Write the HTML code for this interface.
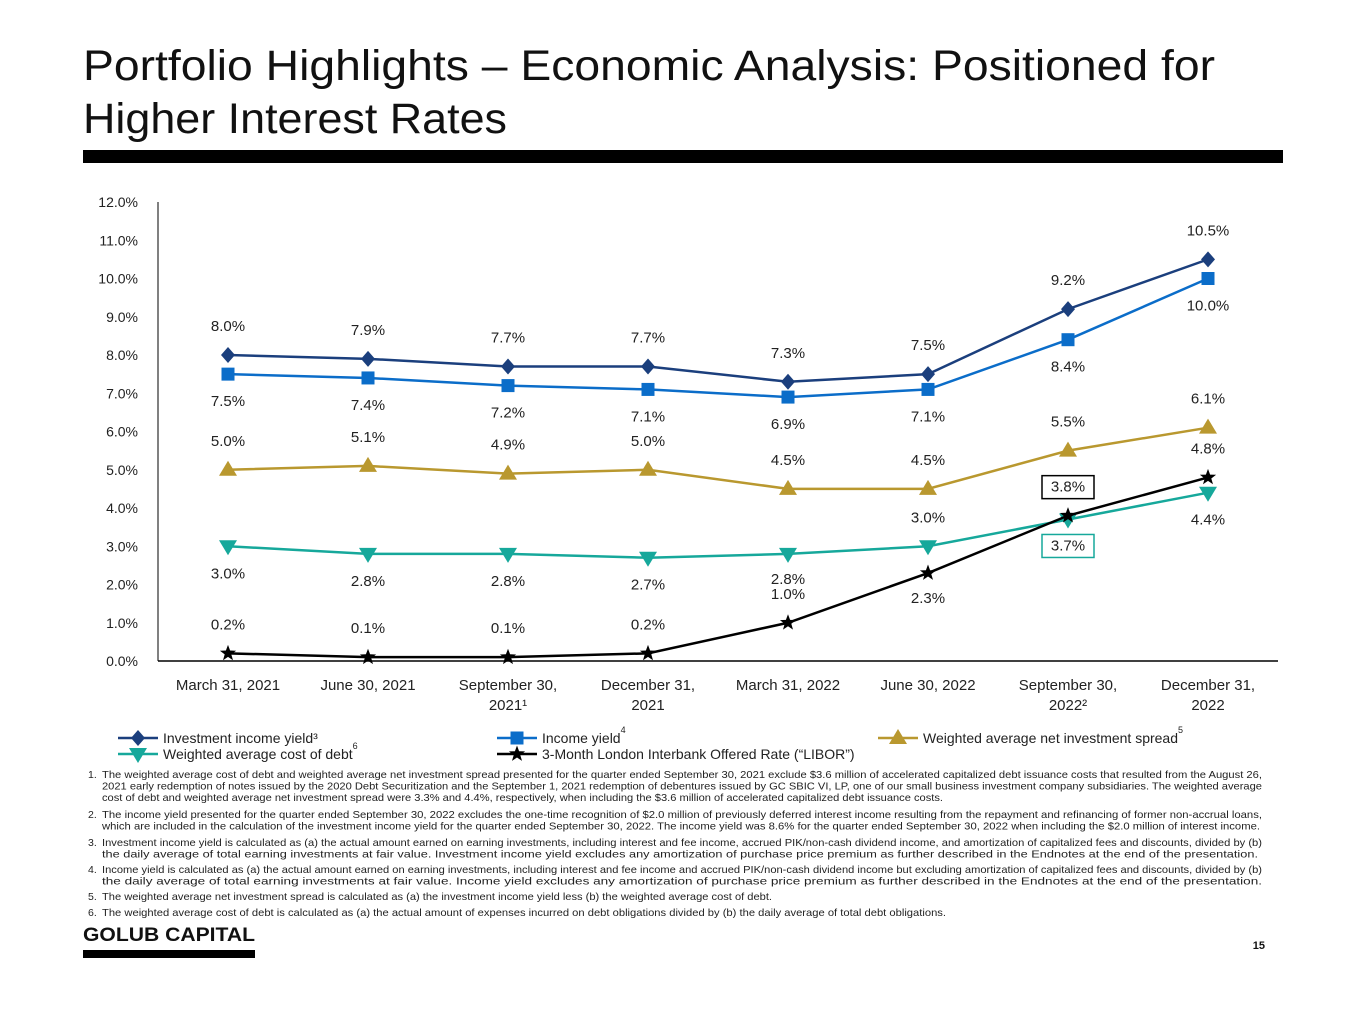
<!DOCTYPE html>
<html><head><meta charset="utf-8"><style>
html,body{margin:0;padding:0;background:#fff;}
svg{display:block;font-family:"Liberation Sans",sans-serif;}
.fn{font-family:"Liberation Sans Narrow","Liberation Sans",sans-serif;font-size:10.5px;fill:#222;}
</style></head><body>
<svg id="chart" width="1365" height="1024" viewBox="0 0 1365 1024">
<text x="83" y="80" font-size="43" fill="#111" textLength="1132" lengthAdjust="spacingAndGlyphs">Portfolio Highlights – Economic Analysis: Positioned for</text>
<text x="83" y="133" font-size="43" fill="#111" textLength="424" lengthAdjust="spacingAndGlyphs">Higher Interest Rates</text>
<rect x="83" y="150" width="1200" height="13" fill="#000"/>
<g id="plot"></g>
<g id="legend"></g>
<g id="notes"></g>
<text x="83" y="941" font-size="19" font-weight="bold" fill="#111" textLength="172" lengthAdjust="spacingAndGlyphs">GOLUB CAPITAL</text>
<rect x="83" y="950" width="172" height="8" fill="#000"/>
<text x="1265" y="949" font-size="11" font-weight="bold" text-anchor="end" fill="#111">15</text>
</svg>
<script>
const categories = ["March 31, 2021","June 30, 2021","September 30,|2021¹","December 31,|2021","March 31, 2022","June 30, 2022","September 30,|2022²","December 31,|2022"];
const investmentIncomeYield = [8.0,7.9,7.7,7.7,7.3,7.5,9.2,10.5];
const incomeYield = [7.5,7.4,7.2,7.1,6.9,7.1,8.4,10.0];
const netSpread = [5.0,5.1,4.9,5.0,4.5,4.5,5.5,6.1];
const costOfDebt = [3.0,2.8,2.8,2.7,2.8,3.0,3.7,4.4];
const libor = [0.2,0.1,0.1,0.2,1.0,2.3,3.8,4.8];
const yTicks = [0,1,2,3,4,5,6,7,8,9,10,11,12];

const NS="http://www.w3.org/2000/svg";
const X0=158, X1=1278, Y0=661, Y1=202, YMAX=12;
const band=(X1-X0)/categories.length;
const xs=i=>X0+band*(i+0.5);
const ys=v=>Y0-(v/YMAX)*(Y0-Y1);
function mk(tag,attrs,parent){const e=document.createElementNS(NS,tag);for(const k in attrs)e.setAttribute(k,attrs[k]);parent.appendChild(e);return e;}
const plot=document.getElementById('plot');

let ax=mk('line',{x1:X0,y1:Y1,x2:X0,y2:Y0,stroke:'#000','stroke-width':1},plot);


let bx=mk('line',{x1:X0,y1:Y0,x2:X1,y2:Y0,stroke:'#000','stroke-width':1.5},plot);


yTicks.forEach(t=>{
  const tx=mk('text',{x:138,y:ys(t)+5,'font-size':14,'text-anchor':'end',fill:'#222'},plot);
  tx.textContent=t.toFixed(1)+'%';
  
  
});
categories.forEach((c,i)=>{
  c.split('|').forEach((ln,j)=>{
    const tx=mk('text',{x:xs(i),y:690+j*20,'font-size':15,'text-anchor':'middle',fill:'#222'},plot);
    tx.textContent=ln;
    
    
  });
});

function marker(type,x,y,color,parent){
  let e;
  if(type==='diamond') e=mk('polygon',{points:`${x},${y-8} ${x+7},${y} ${x},${y+8} ${x-7},${y}`,fill:color},parent);
  else if(type==='square') e=mk('rect',{x:x-6.5,y:y-6.5,width:13,height:13,fill:color},parent);
  else if(type==='up') e=mk('polygon',{points:`${x},${y-9} ${x+9},${y+6} ${x-9},${y+6}`,fill:color},parent);
  else if(type==='down') e=mk('polygon',{points:`${x-9},${y-6} ${x+9},${y-6} ${x},${y+9}`,fill:color},parent);
  else {let p=[];for(let k=0;k<10;k++){const r=k%2?3.5:8.5,a=-Math.PI/2+k*Math.PI/5;p.push((x+r*Math.cos(a)).toFixed(1)+','+(y+r*Math.sin(a)).toFixed(1));}
    e=mk('polygon',{points:p.join(' '),fill:color},parent);}
  return e;
}
const series=[
 {name:'investment-income-yield',data:investmentIncomeYield,color:'#1b3f7d',m:'diamond',off:[-24,-24,-24,-24,-24,-24,-24,-24]},
 {name:'income-yield',data:incomeYield,color:'#0b6dc9',m:'square',off:[32,32,32,32,32,32,32,32]},
 {name:'net-investment-spread',data:netSpread,color:'#b9982f',m:'up',off:[-24,-24,-24,-24,-24,-24,-24,-24]},
 {name:'cost-of-debt',data:costOfDebt,color:'#16a89b',m:'down',off:[32,32,32,32,30,-24,31,32]},
 {name:'libor',data:libor,color:'#000',m:'star',off:[-24,-24,-24,-24,-24,30,-24,-24]}
];
series.forEach(s=>{
  const g=mk('g',{},plot);
  
  
  const ln=mk('polyline',{points:s.data.map((v,i)=>xs(i)+','+ys(v)).join(' '),fill:'none',stroke:s.color,'stroke-width':2.5},g);
  
  
  s.data.forEach((v,i)=>{
    const mm=marker(s.m,xs(i),ys(v),s.color,g);
    
    
    const ly=ys(v)+s.off[i];
    const boxed=(i===6&&(s.name==='libor'||s.name==='cost-of-debt'));
    if(boxed){
      const b=mk('rect',{x:xs(i)-26,y:ly-16,width:52,height:23,fill:'#fff',stroke:s.name==='libor'?'#000':'#16a89b','stroke-width':1.5},g);
      
      
    }
    const t=mk('text',{x:xs(i),y:ly,'font-size':15,'text-anchor':'middle',fill:'#222'},g);
    t.textContent=v.toFixed(1)+'%';
    
    
  });
});

const leg=document.getElementById('legend');
const legItems=[
 {s:0,x:118,y:738,t:'Investment income yield³',sup:''},
 {s:1,x:497,y:738,t:'Income yield',sup:'4'},
 {s:2,x:878,y:738,t:'Weighted average net investment spread',sup:'5'},
 {s:3,x:118,y:754,t:'Weighted average cost of debt',sup:'6'},
 {s:4,x:497,y:754,t:'3-Month London Interbank Offered Rate (“LIBOR”)',sup:''}
];
legItems.forEach(it=>{
  const s=series[it.s];
  const g=mk('g',{},leg);
  
  
  mk('line',{x1:it.x,y1:it.y,x2:it.x+40,y2:it.y,stroke:s.color,'stroke-width':2.5},g);
  marker(s.m,it.x+20,it.y,s.color,g);
  const t=mk('text',{x:it.x+45,y:it.y+5,'font-size':14,fill:'#222'},g);
  t.textContent=it.t;
  if(it.sup){const sp=mk('tspan',{'font-size':9,dy:-10},t);sp.textContent=it.sup;}
});

const notes=document.getElementById('notes');
const fn=[
 [1,"The weighted average cost of debt and weighted average net investment spread presented for the quarter ended September 30, 2021 exclude $3.6 million of accelerated capitalized debt issuance costs that resulted from the August 26,",
  "2021 early redemption of notes issued by the 2020 Debt Securitization and the September 1, 2021 redemption of debentures issued by GC SBIC VI, LP, one of our small business investment company subsidiaries. The weighted average",
  "cost of debt and weighted average net investment spread were 3.3% and 4.4%, respectively, when including the $3.6 million of accelerated capitalized debt issuance costs."],
 [2,"The income yield presented for the quarter ended September 30, 2022 excludes the one-time recognition of $2.0 million of previously deferred interest income resulting from the repayment and refinancing of former non-accrual loans,",
  "which are included in the calculation of the investment income yield for the quarter ended September 30, 2022. The income yield was 8.6% for the quarter ended September 30, 2022 when including the $2.0 million of interest income."],
 [3,"Investment income yield is calculated as (a) the actual amount earned on earning investments, including interest and fee income, accrued PIK/non-cash dividend income, and amortization of capitalized fees and discounts, divided by (b)",
  "the daily average of total earning investments at fair value. Investment income yield excludes any amortization of purchase price premium as further described in the Endnotes at the end of the presentation."],
 [4,"Income yield is calculated as (a) the actual amount earned on earning investments, including interest and fee income and accrued PIK/non-cash dividend income but excluding amortization of capitalized fees and discounts, divided by (b)",
  "the daily average of total earning investments at fair value. Income yield excludes any amortization of purchase price premium as further described in the Endnotes at the end of the presentation."],
 [5,"The weighted average net investment spread is calculated as (a) the investment income yield less (b) the weighted average cost of debt."],
 [6,"The weighted average cost of debt is calculated as (a) the actual amount of expenses incurred on debt obligations divided by (b) the daily average of total debt obligations."]
];
const fnStarts=[778,818,846,873,900,916];
const lastW=[841,1158,1156,1160,670,844];
fn.forEach((f,k)=>{
  const n=mk('text',{x:88,y:fnStarts[k],class:'fn'},notes);
  n.textContent=f[0]+'.';
  
  
  for(let j=1;j<f.length;j++){
    const a={x:102,y:fnStarts[k]+(j-1)*11.5,class:'fn',lengthAdjust:'spacingAndGlyphs'};
    a.textLength=(j<f.length-1)?1160:lastW[k];
    const t=mk('text',a,notes);
    t.textContent=f[j];
    
    
  }
});
</script>
</body></html>
